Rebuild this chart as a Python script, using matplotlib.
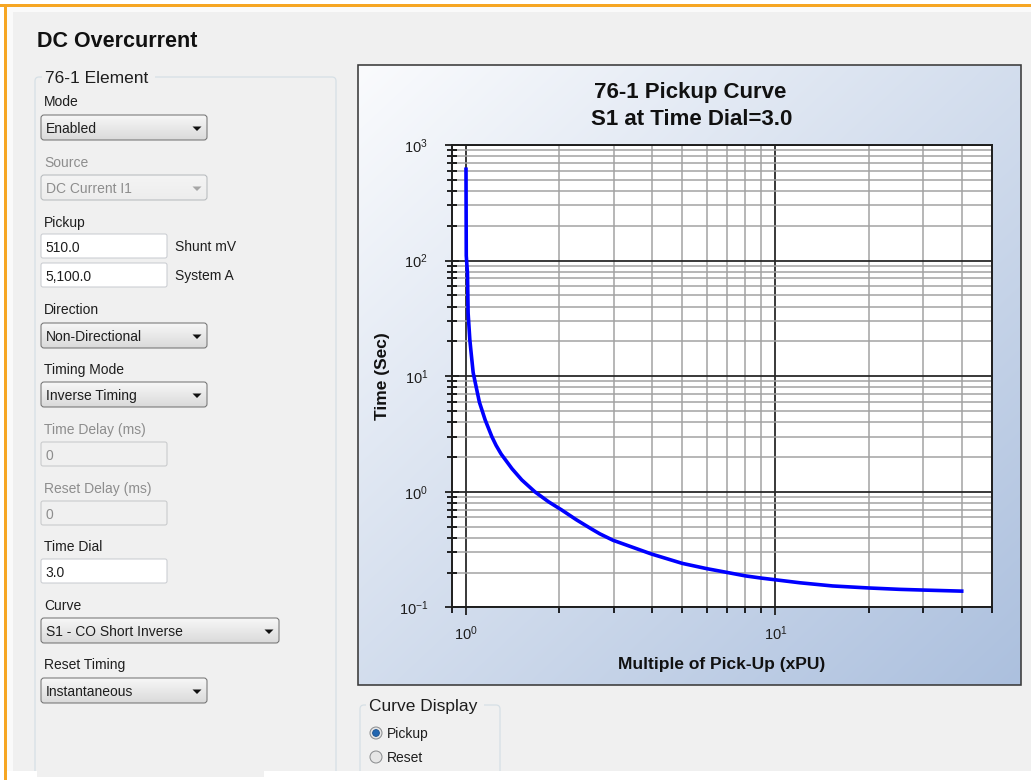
import numpy as np
import matplotlib
matplotlib.use("Agg")
import matplotlib.pyplot as plt
from matplotlib.patches import FancyBboxPatch, Rectangle, Polygon, Circle
from matplotlib.ticker import LogLocator, NullFormatter, FuncFormatter

# ---------------- data ----------------
xpu = [1.001, 1.003, 1.012, 1.017, 1.03, 1.04, 1.056, 1.079, 1.106, 1.154, 1.213, 1.252,
       1.30, 1.41, 1.516, 1.67, 1.848, 2.04, 2.28, 2.55, 2.71, 2.99, 3.98, 5.0, 6.0, 7.0,
       8.0, 9.0, 10.0, 12.0, 15.3, 20.0, 25.2, 30.0, 40.0]
time_s = [617, 110, 78, 35, 20.6, 15.9, 10.7, 8.13, 5.95, 4.19, 3.0, 2.52,
          2.12, 1.58, 1.265, 1.0, 0.82, 0.695, 0.570, 0.475, 0.432, 0.380, 0.289, 0.240, 0.216, 0.200,
          0.187, 0.179, 0.173, 0.163, 0.153, 0.147, 0.143, 0.141, 0.138]

chart_title = ["76-1 Pickup Curve", "S1 at Time Dial=3.0"]
x_label = "Multiple of Pick-Up (xPU)"
y_label = "Time (Sec)"
x_limits = (0.9, 50)
y_limits = (0.1, 1000)

page_title = "DC Overcurrent"
group_title = "76-1 Element"
field_labels = ["Mode", "Source", "Pickup", "Direction", "Timing Mode",
                "Time Delay (ms)", "Reset Delay (ms)", "Time Dial", "Curve", "Reset Timing"]
field_values = ["Enabled", "DC Current I1", "510.0", "5,100.0", "Non-Directional",
                "Inverse Timing", "0", "0", "3.0", "S1 - CO Short Inverse", "Instantaneous"]
unit_labels = ["Shunt mV", "System A"]
display_title = "Curve Display"
display_options = ["Pickup", "Reset"]

# ---------------- figure ----------------
W, H = 1031, 780
plt.rcParams['font.family'] = ['Liberation Sans', 'DejaVu Sans']
plt.rcParams['axes.unicode_minus'] = False
fig = plt.figure(figsize=(W / 100, H / 100), dpi=100, facecolor='#F0F0F0')
ui = fig.add_axes([0, 0, 1, 1])
ui.set_axis_off()
ui.set_facecolor('#F0F0F0')

TXT = '#1E1E1E'
DIS = '#8D8D8D'
FS = 10


def px(v):
    return v * 72 / 100


def rect(x, y, w, h, color, z=1):
    ui.add_patch(Rectangle((x, y), w, h, facecolor=color, edgecolor='none', zorder=z))


def grad_box(x, y, w, h, top, bot, edge, r=3, lw=1.0, z=3):
    patch = FancyBboxPatch((x, y), w, h, boxstyle=f"round,pad=0,rounding_size={r}",
                           facecolor='none', edgecolor=edge, linewidth=px(lw), zorder=z + 0.5)
    ui.add_patch(patch)
    t = np.linspace(0, 1, 60)[:, None, None]
    top = np.array(matplotlib.colors.to_rgb(top))[None, None, :]
    bot = np.array(matplotlib.colors.to_rgb(bot))[None, None, :]
    img = top * (1 - t) + bot * t
    im = ui.imshow(img, extent=(x, x + w, y + h, y), aspect='auto', zorder=z,
                   interpolation='bilinear')
    im.set_clip_path(patch)


def combo(x, y, w, text, enabled=True):
    if enabled:
        grad_box(x, y, w, 25, '#F7F7F7', '#DADADA', '#707070', r=3)
        c, ac = TXT, '#101010'
    else:
        grad_box(x, y, w, 25, '#F4F4F4', '#EDEDED', '#B5B9BC', r=3)
        c, ac = DIS, '#A6A6A6'
    ui.text(x + 5, y + 18, text, fontsize=FS, color=c, va='baseline', ha='left', zorder=5)
    ax_ = x + w - 10
    ui.add_patch(Polygon([(ax_ - 4.5, y + 11.5), (ax_ + 4.5, y + 11.5), (ax_, y + 16)],
                         closed=True, facecolor=ac, edgecolor='none', zorder=5))


def textbox(x, y, w, text, enabled=True):
    fc = 'white' if enabled else '#F0F0F0'
    ec = '#C8CBD0' if enabled else '#C6C8CA'
    ui.add_patch(FancyBboxPatch((x, y), w, 24, boxstyle="round,pad=0,rounding_size=2",
                                facecolor=fc, edgecolor=ec, linewidth=px(1), zorder=3))
    ui.text(x + 4, y + 18, text, fontsize=FS, color=TXT if enabled else DIS,
            va='baseline', ha='left', zorder=5)


def groupbox(x, y, w, h, title, gap):
    ui.add_patch(FancyBboxPatch((x, y), w, h, boxstyle="round,pad=0,rounding_size=4",
                                facecolor='none', edgecolor='#D5DFE5', linewidth=px(1.2), zorder=2))
    rect(gap[0], y - 3, gap[1] - gap[0], 6, '#F0F0F0', z=2.5)
    ui.text(gap[0] + 3, y + 6, title, fontsize=12.5, color=TXT, va='baseline', ha='left', zorder=5)


# frame: white margins and orange border
rect(0, 0, W, 4, 'white', z=1)
rect(0, 0, 4, H, 'white', z=1)
rect(0, 4, W, 3, '#F6A623', z=1.2)
rect(4, 4, 3, H, '#F6A623', z=1.2)
rect(7, 7, W, 5, '#FAFAFA', z=1.1)
rect(7, 7, 6, H, '#FAFAFA', z=1.1)

ui.text(37, 47, page_title, fontsize=15.5, weight='bold', color='#111111', va='baseline', ha='left')

# left group box
groupbox(35, 77, 301, 720, group_title, (42, 155))

lab_y = [106, 167, 227, 314, 374, 434, 493, 551, 610, 669]
for i, (lab, yy) in enumerate(zip(field_labels, lab_y)):
    ui.text(44, yy, lab, fontsize=FS, color=DIS if lab in ("Source", "Time Delay (ms)", "Reset Delay (ms)") else TXT,
            va='baseline', ha='left', zorder=5)

combo(41, 115, 166, field_values[0])
combo(41, 175, 166, field_values[1], enabled=False)
textbox(41, 234, 126, field_values[2])
ui.text(175, 251, unit_labels[0], fontsize=FS, color=TXT, va='baseline')
textbox(41, 263, 126, field_values[3])
ui.text(175, 280, unit_labels[1], fontsize=FS, color=TXT, va='baseline')
combo(41, 323, 166, field_values[4])
combo(41, 382, 166, field_values[5])
textbox(41, 442, 126, field_values[6], enabled=False)
textbox(41, 501, 126, field_values[7], enabled=False)
textbox(41, 559, 126, field_values[8])
combo(41, 618, 238, field_values[9])
combo(41, 678, 166, field_values[10])

# chart panel with gradient
PX0, PY0, PX1, PY1 = 358, 65, 1021, 685
u = np.linspace(0, 1, 200)[None, :, None]
v = np.linspace(0, 1, 200)[:, None, None]
c0 = np.array([250, 251, 253]) / 255
c1 = np.array([172, 192, 222]) / 255
tt = 0.5 * (u + v)
img = c0 * (1 - tt) + c1 * tt
ui.imshow(img, extent=(PX0, PX1, PY1, PY0), aspect='auto', zorder=1.5, interpolation='bilinear')
ui.add_patch(Rectangle((PX0, PY0), PX1 - PX0, PY1 - PY0, facecolor='none',
                       edgecolor='#3A3A3A', linewidth=px(1.6), zorder=1.6))

ui.text(690, 98, chart_title[0], fontsize=16, weight='bold', color='#111111', ha='center', va='baseline')
ui.text(692, 125, chart_title[1], fontsize=16, weight='bold', color='#111111', ha='center', va='baseline')
ui.text(722, 669, x_label, fontsize=12.5, weight='bold', color='#111111', ha='center', va='baseline')
ui.text(382, 376, y_label, fontsize=12.5, weight='bold', color='#111111', ha='center', va='center',
        rotation=90)

# curve display group
groupbox(360, 705, 140, 90, display_title, (366, 484))
for i, (opt, cy) in enumerate(zip(display_options, [733, 757])):
    ui.add_patch(Circle((376, cy), 6, facecolor='#E6E6E6', edgecolor='#8A8C8E', linewidth=px(1), zorder=4))
    if i == 0:
        ui.add_patch(Circle((376, cy), 3.4, facecolor='#2266B0', edgecolor='#174E8C', linewidth=px(0.8), zorder=5))
    ui.text(387, cy + 5, opt, fontsize=FS, color=TXT, va='baseline', ha='left', zorder=5)

# bottom white strip
rect(7, 771, W, 10, 'white', z=6)
rect(37, 771, 227, 6, '#F0F0F0', z=6.1)

ui.set_xlim(0, W)
ui.set_ylim(H, 0)

# ---------------- the chart ----------------
AX0, AX1, AY0, AY1 = 451.7, 991.7, 145, 607.3
ax = fig.add_axes([AX0 / W, 1 - AY1 / H, (AX1 - AX0) / W, (AY1 - AY0) / H])
ax.set_facecolor('white')
ax.set_xscale('log')
ax.set_yscale('log')
ax.plot(xpu, time_s, color='#0000FF', linewidth=2.6, solid_joinstyle='round', zorder=3)
ax.set_xlim(*x_limits)
ax.set_ylim(*y_limits)

pow_fmt = FuncFormatter(lambda val, pos: r'$\mathdefault{10^{%d}}$' % int(round(np.log10(val))))
for axis in (ax.xaxis, ax.yaxis):
    axis.set_major_locator(LogLocator(base=10, numticks=10))
    axis.set_minor_locator(LogLocator(base=10, subs=np.arange(2, 10), numticks=30))
    axis.set_minor_formatter(NullFormatter())
    axis.set_major_formatter(pow_fmt)

ax.grid(which='major', color='#2A2A2A', linewidth=1.3)
ax.grid(which='minor', color='#A3A3A3', linewidth=1.1)
for s in ax.spines.values():
    s.set_color('#1E1E1E')
    s.set_linewidth(1.4)

ax.tick_params(axis='y', which='major', direction='inout', length=10, width=1.3, pad=12,
               labelsize=10.5, colors='#1E1E1E')
ax.tick_params(axis='y', which='minor', direction='inout', length=7, width=1.2)
ax.tick_params(axis='x', which='major', direction='out', length=6, width=1.3, pad=6,
               labelsize=10.5, colors='#1E1E1E')
ax.tick_params(axis='x', which='minor', direction='out', length=4, width=1.2)

fig.savefig('out.png', dpi=100, facecolor=fig.get_facecolor())
